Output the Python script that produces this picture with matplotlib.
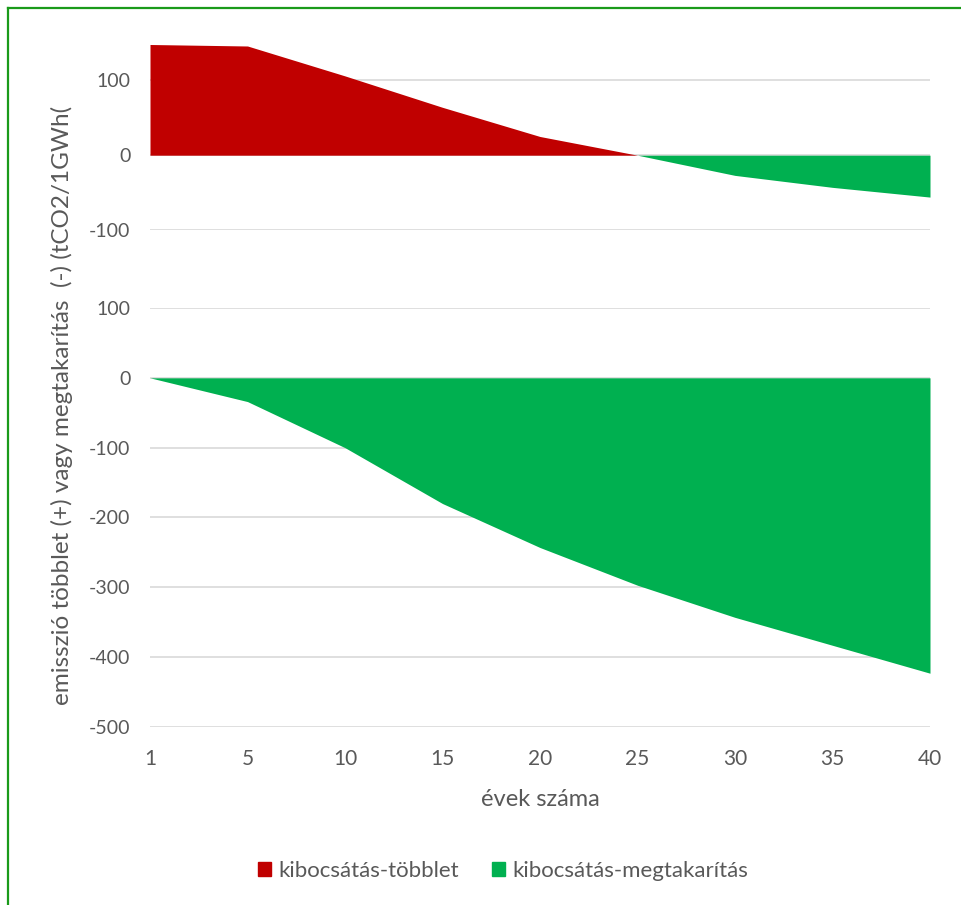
import matplotlib.pyplot as plt
from matplotlib.lines import Line2D
from matplotlib.patches import Patch
import numpy as np

# years on the category axis
years = ["1", "5", "10", "15", "20", "25", "30", "35", "40"]

# upper panel: net emission difference (tCO2 / 1 GWh)
upper_values = [148, 146, 106, 64, 25, 0, -27, -43, -56]

# lower panel: emission savings (tCO2 / 1 GWh)
lower_values = [0, -34, -100, -180, -243, -297, -343, -383, -423]

RED = "#C00000"
GREEN = "#00B050"
GRID = "#D9D9D9"
TEXT = "#595959"

plt.rcParams["font.family"] = ["Lato", "DejaVu Sans"]
plt.rcParams["axes.unicode_minus"] = False

fig = plt.figure(figsize=(9.61, 9.05), dpi=100)
W, H = 961, 905


def px_axes(left, top, right, bottom):
    return fig.add_axes([left / W, 1 - bottom / H, (right - left) / W, (bottom - top) / H])


x = np.arange(len(years))
up = np.array(upper_values, dtype=float)
low = np.array(lower_values, dtype=float)

ax_top = px_axes(150, 43, 930, 230)
ax_bot = px_axes(150, 308, 930, 727)

for ax in (ax_top, ax_bot):
    for s in ax.spines.values():
        s.set_visible(False)
    ax.set_xlim(0, len(years) - 1)
    ax.grid(axis="y", color=GRID, linewidth=1.2)
    ax.set_axisbelow(True)
    ax.tick_params(axis="both", length=0, labelsize=14, labelcolor=TEXT, pad=14)

# upper chart: surplus above zero, savings below
ax_top.fill_between(x, up, 0, where=up >= 0, interpolate=True, color=RED, linewidth=0)
ax_top.fill_between(x, up, 0, where=up <= 0, interpolate=True, color=GREEN, linewidth=0)
ax_top.set_ylim(-100, 150)
ax_top.set_yticks([-100, 0, 100])
ax_top.set_xticks([])

# lower chart: savings only
ax_bot.fill_between(x, low, 0, color=GREEN, linewidth=0)
ax_bot.set_ylim(-500, 100)
ax_bot.set_yticks(np.arange(-500, 101, 100))
ax_bot.set_xticks(x)
ax_bot.set_xticklabels(years)
ax_bot.tick_params(axis="x", labelsize=15, pad=16)
ax_bot.set_xlabel("évek száma", fontsize=17, color=TEXT, labelpad=14)

fig.text(62 / W, 1 - 405 / H, "emisszió többlet (+) vagy megtakarítás  (-) (tCO2/1GWh(",
         rotation=90, ha="center", va="center", fontsize=17.5, color=TEXT)

handles = [Patch(color=RED, label="kibocsátás-többlet"),
           Patch(color=GREEN, label="kibocsátás-megtakarítás")]
fig.legend(handles=handles, loc="center", bbox_to_anchor=(503 / W, 1 - 871 / H), ncol=2,
           frameon=False, fontsize=16, labelcolor=TEXT, handlelength=0.6, handleheight=0.6,
           handletextpad=0.3, columnspacing=1.5)

# green frame along top and left edge
fig.add_artist(Line2D([8 / W, 1], [1 - 8 / H, 1 - 8 / H], color="#1A9A1A", linewidth=1.6))
fig.add_artist(Line2D([8 / W, 8 / W], [0, 1 - 8 / H], color="#1A9A1A", linewidth=1.6))

fig.savefig("out.png", dpi=100)
